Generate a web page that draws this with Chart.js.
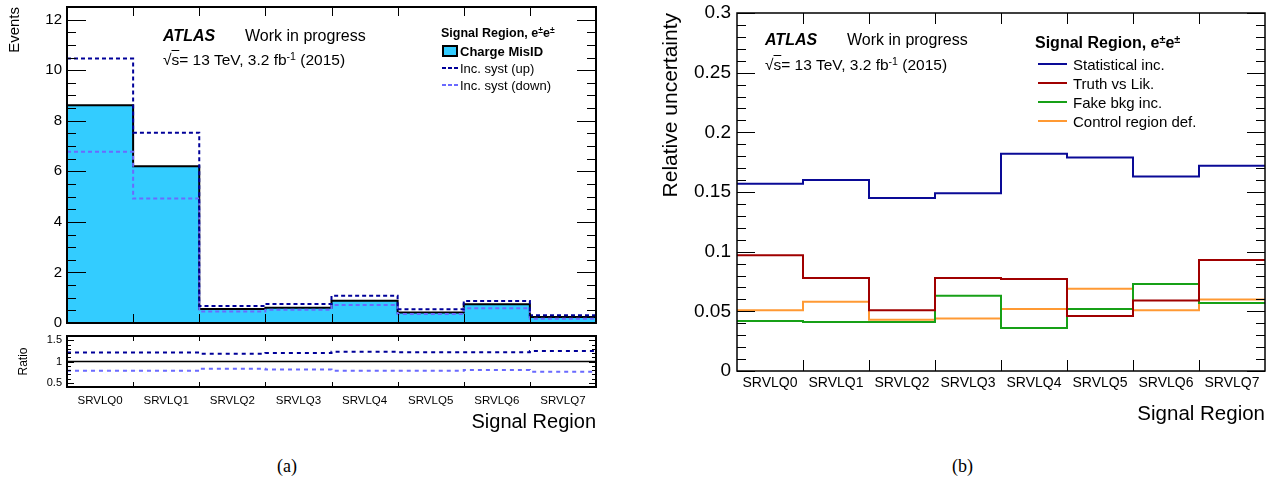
<!DOCTYPE html>
<html>
<head>
<meta charset="utf-8">
<script src="https://cdn.jsdelivr.net/npm/chart.js@4.4.1/dist/chart.umd.min.js"></script>
<style>
  body { margin: 0; background: #fff; width: 1285px; height: 484px; position: relative; overflow: hidden;
         font-family: "Liberation Sans", Arial, Helvetica, sans-serif; color: #000; }
  canvas { position: absolute; }
  .t { position: absolute; white-space: nowrap; line-height: 1; }
  .b { font-weight: bold; }
  .bi { font-weight: bold; font-style: italic; }
  sup { font-size: 68%; vertical-align: 0; position: relative; top: -0.5em; }
  .ov { text-decoration: overline; }
  .ln { position: absolute; height: 2px; }
  .cap { position: absolute; font-family: "Liberation Serif", "DejaVu Serif", serif; font-size: 18px; line-height: 1; }
</style>
</head>
<body>
<canvas id="mainA" width="610" height="330" style="left:0;top:0"></canvas>
<canvas id="ratioA" width="610" height="110" style="left:0;top:330px"></canvas>
<canvas id="chartB" width="665" height="430" style="left:620px;top:0"></canvas>

<!-- (a) annotations -->
<div class="t bi" style="left:163px;top:28px;font-size:16px">ATLAS</div>
<div class="t" style="left:245px;top:28px;font-size:16px">Work in progress</div>
<div class="t" style="left:163px;top:52px;font-size:15.5px">&radic;<span class="ov">s</span>= 13 TeV, 3.2 fb<sup>-1</sup> (2015)</div>
<div class="t b" style="left:441px;top:27px;font-size:12.5px">Signal Region, e<sup>&plusmn;</sup>e<sup>&plusmn;</sup></div>
<div style="position:absolute;left:442px;top:45px;width:16px;height:12px;box-sizing:border-box;border:2px solid #000;background:#33ccff"></div>
<div class="t b" style="left:460px;top:45px;font-size:13px">Charge MisID</div>
<div class="ln" style="left:442px;top:67px;width:16px;background:repeating-linear-gradient(to right,#000099 0 4px,transparent 4px 6px)"></div>
<div class="t" style="left:460px;top:62px;font-size:13px">Inc. syst (up)</div>
<div class="ln" style="left:442px;top:84px;width:16px;background:repeating-linear-gradient(to right,#6a6aff 0 4px,transparent 4px 6px)"></div>
<div class="t" style="left:460px;top:79px;font-size:13px">Inc. syst (down)</div>
<div class="cap" style="left:277px;top:457px">(a)</div>

<!-- (b) annotations -->
<div class="t bi" style="left:765px;top:32px;font-size:16px">ATLAS</div>
<div class="t" style="left:847px;top:32px;font-size:16px">Work in progress</div>
<div class="t" style="left:765px;top:57px;font-size:15.5px">&radic;<span class="ov">s</span>= 13 TeV, 3.2 fb<sup>-1</sup> (2015)</div>
<div class="t b" style="left:1035px;top:35px;font-size:16px">Signal Region, e<sup>&plusmn;</sup>e<sup>&plusmn;</sup></div>
<div class="ln" style="left:1038px;top:63px;width:29px;background:#0a0a96"></div>
<div class="t" style="left:1073px;top:57px;font-size:15px">Statistical inc.</div>
<div class="ln" style="left:1038px;top:82px;width:29px;background:#a00000"></div>
<div class="t" style="left:1073px;top:76px;font-size:15px">Truth vs Lik.</div>
<div class="ln" style="left:1038px;top:101px;width:29px;background:#17a017"></div>
<div class="t" style="left:1073px;top:95px;font-size:15px">Fake bkg inc.</div>
<div class="ln" style="left:1038px;top:120px;width:29px;background:#ff9933"></div>
<div class="t" style="left:1073px;top:114px;font-size:15px">Control region def.</div>
<div class="cap" style="left:952px;top:457px">(b)</div>

<script>
const categories = ['SRVLQ0', 'SRVLQ1', 'SRVLQ2', 'SRVLQ3', 'SRVLQ4', 'SRVLQ5', 'SRVLQ6', 'SRVLQ7'];

// (a) charge mis-ID yield per signal region
const chargeMisID = [8.61, 6.20, 0.55, 0.60, 0.88, 0.42, 0.74, 0.24];
const systUp      = [10.46, 7.53, 0.67, 0.75, 1.08, 0.54, 0.87, 0.31];
const systDown    = [6.77, 4.92, 0.45, 0.52, 0.71, 0.36, 0.58, 0.17];
const ratioUp     = [1.21, 1.21, 1.18, 1.20, 1.23, 1.22, 1.22, 1.25];
const ratioDown   = [0.78, 0.78, 0.83, 0.81, 0.78, 0.78, 0.80, 0.76];
const ratioRef    = [1, 1, 1, 1, 1, 1, 1, 1];
const eventsTicks = [0, 2, 4, 6, 8, 10, 12];
const ratioTicks  = [0.5, 1, 1.5];

// (b) relative uncertainties
const statistical = [0.157, 0.160, 0.145, 0.149, 0.182, 0.179, 0.163, 0.172];
const truthVsLik  = [0.097, 0.078, 0.051, 0.078, 0.077, 0.046, 0.059, 0.093];
const fakeBkg     = [0.042, 0.041, 0.041, 0.063, 0.036, 0.052, 0.073, 0.057];
const controlReg  = [0.051, 0.058, 0.043, 0.044, 0.052, 0.069, 0.051, 0.060];
const uncTicks    = [0, 0.05, 0.1, 0.15, 0.2, 0.25, 0.3];

Chart.defaults.font.family = '"Liberation Sans", Arial, Helvetica, sans-serif';
Chart.defaults.color = '#000';

// bin i holds value v[i] from x=i to x=i+1
function steps(vals) {
  return vals.map((v, i) => ({x: i, y: v})).concat([{x: vals.length, y: vals[vals.length - 1]}]);
}

function hist(label, vals, color, extra) {
  return Object.assign({
    label, data: steps(vals), borderColor: color, borderWidth: 2,
    stepped: true, pointRadius: 0, fill: false
  }, extra || {});
}

// ROOT style frame with inside ticks
const rootFrame = {
  id: 'rootFrame',
  afterDatasetsDraw(chart, args, o) {
    const {ctx, chartArea: a} = chart;
    const y = chart.scales.y, x = chart.scales.x;
    ctx.save();
    ctx.strokeStyle = '#000';
    ctx.lineWidth = 1;
    ctx.beginPath();
    let v = Math.ceil(y.min / o.yMinor - 1e-6) * o.yMinor;
    for (; v <= y.max + 1e-9; v += o.yMinor) {
      const major = Math.abs(v / o.yMajor - Math.round(v / o.yMajor)) < 1e-6;
      const len = major ? o.yLong : o.yShort;
      const py = Math.round(y.getPixelForValue(v)) + 0.5;
      ctx.moveTo(a.left, py); ctx.lineTo(a.left + len, py);
      ctx.moveTo(a.right, py); ctx.lineTo(a.right - len, py);
    }
    for (let i = 1; i < categories.length; i++) {
      const px = Math.round(x.getPixelForValue(i)) + 0.5;
      ctx.moveTo(px, a.bottom); ctx.lineTo(px, a.bottom - o.xLen);
      ctx.moveTo(px, a.top); ctx.lineTo(px, a.top + o.xLen);
    }
    ctx.stroke();
    ctx.lineWidth = o.frameW;
    ctx.strokeRect(a.left, a.top, a.right - a.left, a.bottom - a.top);
    ctx.restore();
  }
};

function binAxis(show, fontSize, pad, height, title) {
  return {
    type: 'linear', min: 0, max: categories.length, display: show,
    grid: {display: false, drawTicks: false}, border: {display: false},
    afterBuildTicks: s => { s.ticks = categories.map((c, i) => ({value: i + 0.5})); },
    afterFit: s => { s.height = height; s.paddingLeft = 0; s.paddingRight = 0; },
    ticks: {autoSkip: false, maxRotation: 0, minRotation: 0, padding: pad,
            font: {size: fontSize}, callback: v => categories[Math.floor(v)]},
    title: title || {display: false}
  };
}

function valueAxis(min, max, tickVals, fontSize, pad, width, title) {
  return {
    type: 'linear', min, max,
    grid: {display: false, drawTicks: false}, border: {display: false},
    afterBuildTicks: s => { s.ticks = tickVals.map(v => ({value: v})); },
    afterFit: s => { s.width = width; s.paddingTop = 0; s.paddingBottom = 0; },
    ticks: {padding: pad, font: {size: fontSize}, callback: v => String(+v.toFixed(3))},
    title
  };
}

const base = {
  responsive: false, animation: false, devicePixelRatio: 1,
  plugins: {legend: {display: false}, tooltip: {enabled: false}}
};

// (a) main panel
new Chart(document.getElementById('mainA'), {
  type: 'line',
  data: {datasets: [
    hist('Inc. syst (up)', systUp, '#000099', {borderDash: [4, 3], order: 1}),
    hist('Inc. syst (down)', systDown, '#6a6aff', {borderDash: [4, 3], order: 2}),
    hist('Charge MisID', chargeMisID, '#000', {backgroundColor: '#33ccff', fill: 'origin', order: 3})
  ]},
  options: Object.assign({}, base, {
    layout: {autoPadding: false, padding: {top: 7, right: 14, bottom: 7, left: 0}},
    scales: {
      x: binAxis(false, 11, 0, 0),
      y: valueAxis(0, 12.5, eventsTicks, 15, 5, 67,
        {display: true, text: 'Events', align: 'end', font: {size: 15}, padding: {top: 6, bottom: 0}})
    },
    plugins: Object.assign({}, base.plugins, {
      rootFrame: {yMinor: 0.5, yMajor: 2, yLong: 19, yShort: 9, xLen: 9, frameW: 2}
    })
  }),
  plugins: [rootFrame]
});

// (a) ratio panel
new Chart(document.getElementById('ratioA'), {
  type: 'line',
  data: {datasets: [
    hist('up / nominal', ratioUp, '#000099', {borderDash: [4, 4], order: 1}),
    hist('down / nominal', ratioDown, '#6a6aff', {borderDash: [4, 4], order: 2}),
    hist('nominal', ratioRef, '#000', {borderWidth: 1.5, order: 3})
  ]},
  options: Object.assign({}, base, {
    layout: {autoPadding: false, padding: {top: 6, right: 14, bottom: 0, left: 0}},
    scales: {
      x: binAxis(true, 11.5, 7, 53,
        {display: true, text: 'Signal Region', align: 'end', font: {size: 20}, padding: {top: 0, bottom: 6}}),
      y: valueAxis(0.4, 1.6, ratioTicks, 11, 5, 67,
        {display: true, text: 'Ratio', align: 'center', font: {size: 12}, padding: {top: 16, bottom: 0}})
    },
    plugins: Object.assign({}, base.plugins, {
      rootFrame: {yMinor: 0.1, yMajor: 0.5, yLong: 7, yShort: 4, xLen: 5, frameW: 2}
    })
  }),
  plugins: [rootFrame]
});

// (b) relative uncertainties
new Chart(document.getElementById('chartB'), {
  type: 'line',
  data: {datasets: [
    hist('Statistical inc.', statistical, '#0a0a96'),
    hist('Truth vs Lik.', truthVsLik, '#a00000'),
    hist('Fake bkg inc.', fakeBkg, '#17a017'),
    hist('Control region def.', controlReg, '#ff9933')
  ]},
  options: Object.assign({}, base, {
    layout: {autoPadding: false, padding: {top: 13, right: 20, bottom: 0, left: 0}},
    scales: {
      x: binAxis(true, 14, 4, 59,
        {display: true, text: 'Signal Region', align: 'end', font: {size: 20.5}, padding: {top: 0, bottom: 3}}),
      y: valueAxis(0, 0.3, uncTicks, 19, 6, 117,
        {display: true, text: 'Relative uncertainty', align: 'end', font: {size: 21}, padding: {top: 39, bottom: 0}})
    },
    plugins: Object.assign({}, base.plugins, {
      rootFrame: {yMinor: 0.01, yMajor: 0.05, yLong: 18, yShort: 9, xLen: 11, frameW: 1.5}
    })
  }),
  plugins: [rootFrame]
});
</script>
</body>
</html>
